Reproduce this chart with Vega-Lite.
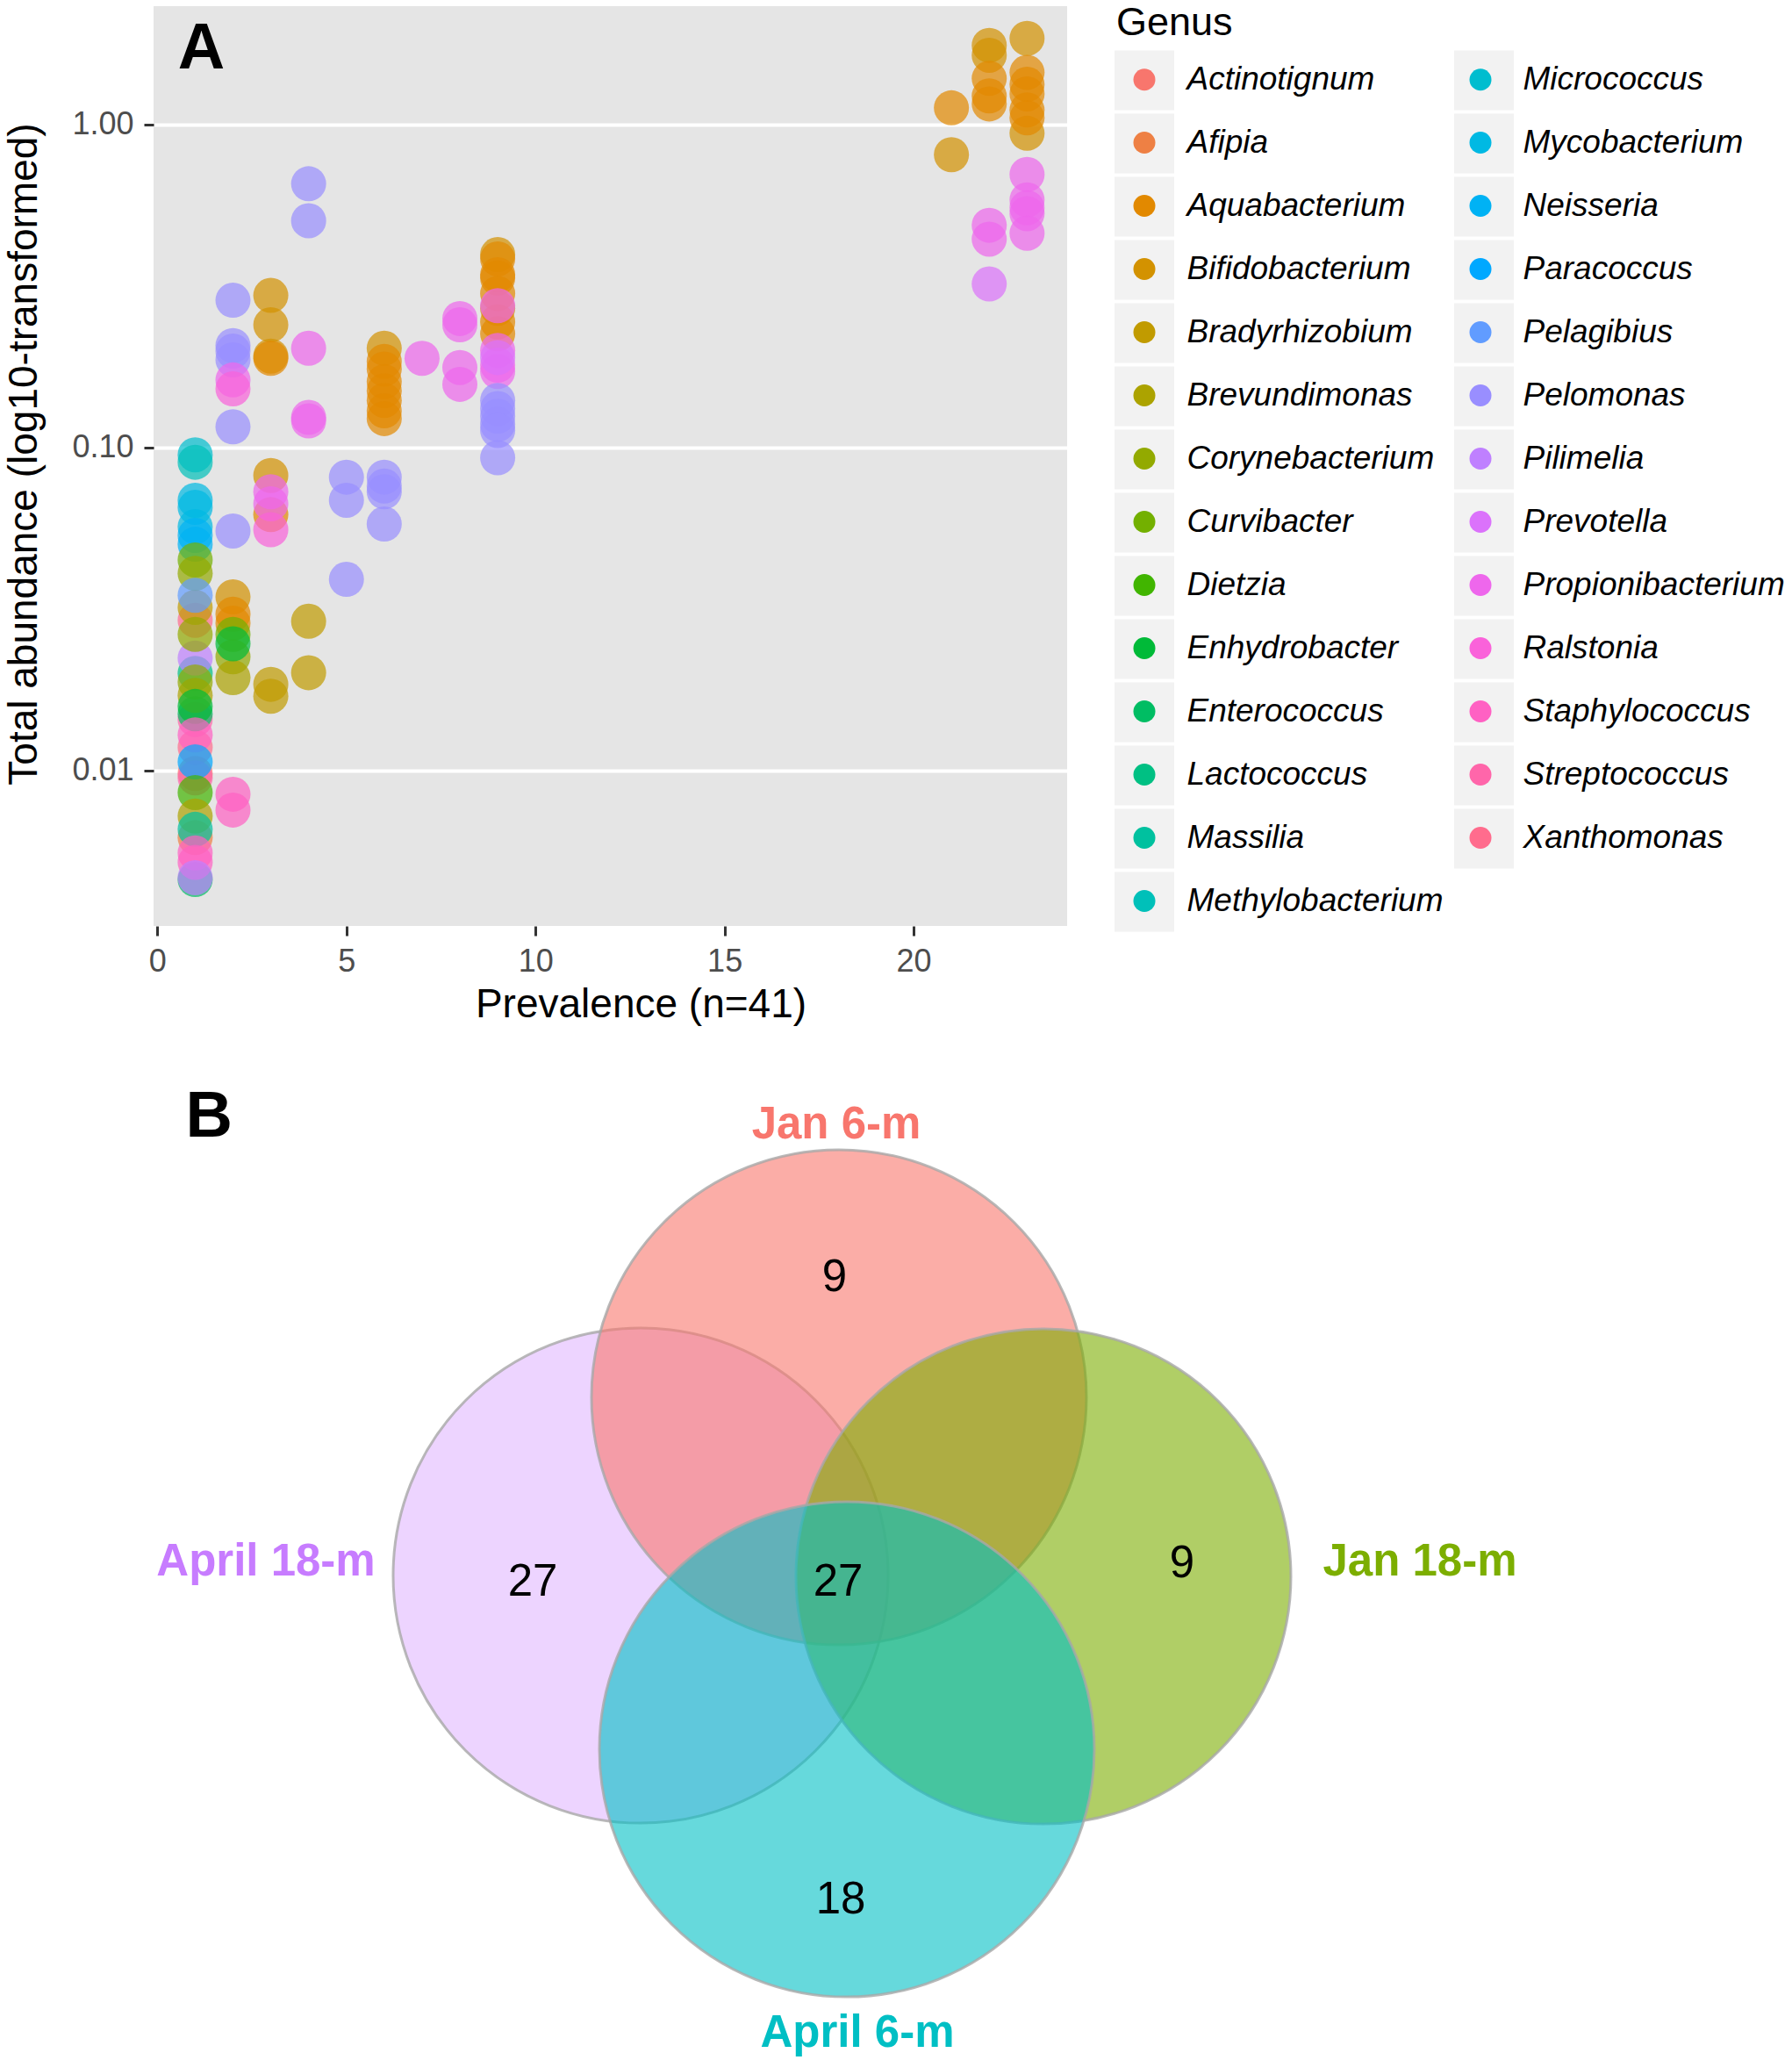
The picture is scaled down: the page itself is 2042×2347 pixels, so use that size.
{
  "$schema": "https://vega.github.io/schema/vega-lite/v6.json",
  "padding": {"left": 4, "top": 4, "right": 0, "bottom": 0},
  "background": "white",
  "bounds": "flush",
  "spacing": 125,
  "resolve": {"scale": {"color": "independent", "shape": "independent"}, "legend": {"color": "independent", "shape": "independent"}},
  "config": {"font": "Liberation Sans", "view": {"stroke": null}},
  "datasets": {
    "pts": [
      {"Genus": "Actinotignum", "prevalence": 1, "abundance": 0.0098},
      {"Genus": "Afipia", "prevalence": 1, "abundance": 0.0062},
      {"Genus": "Lactococcus", "prevalence": 1, "abundance": 0.0200},
      {"Genus": "Xanthomonas", "prevalence": 1, "abundance": 0.0292},
      {"Genus": "Xanthomonas", "prevalence": 1, "abundance": 0.0118},
      {"Genus": "Streptococcus", "prevalence": 1, "abundance": 0.0144},
      {"Genus": "Streptococcus", "prevalence": 1, "abundance": 0.0095},
      {"Genus": "Bradyrhizobium", "prevalence": 1, "abundance": 0.032},
      {"Genus": "Enterococcus", "prevalence": 1, "abundance": 0.0046},
      {"Genus": "Enterococcus", "prevalence": 1, "abundance": 0.0150},
      {"Genus": "Micrococcus", "prevalence": 1, "abundance": 0.0950},
      {"Genus": "Methylobacterium", "prevalence": 1, "abundance": 0.0901},
      {"Genus": "Mycobacterium", "prevalence": 1, "abundance": 0.0687},
      {"Genus": "Mycobacterium", "prevalence": 1, "abundance": 0.0653},
      {"Genus": "Mycobacterium", "prevalence": 1, "abundance": 0.0569},
      {"Genus": "Neisseria", "prevalence": 1, "abundance": 0.0535},
      {"Genus": "Neisseria", "prevalence": 1, "abundance": 0.0502},
      {"Genus": "Curvibacter", "prevalence": 1, "abundance": 0.0449},
      {"Genus": "Corynebacterium", "prevalence": 1, "abundance": 0.0408},
      {"Genus": "Pelagibius", "prevalence": 1, "abundance": 0.0349},
      {"Genus": "Pilimelia", "prevalence": 1, "abundance": 0.0223},
      {"Genus": "Corynebacterium", "prevalence": 1, "abundance": 0.0264},
      {"Genus": "Brevundimonas", "prevalence": 1, "abundance": 0.0171},
      {"Genus": "Corynebacterium", "prevalence": 1, "abundance": 0.0188},
      {"Genus": "Enhydrobacter", "prevalence": 1, "abundance": 0.0158},
      {"Genus": "Staphylococcus", "prevalence": 1, "abundance": 0.0129},
      {"Genus": "Paracoccus", "prevalence": 1, "abundance": 0.01065},
      {"Genus": "Dietzia", "prevalence": 1, "abundance": 0.00855},
      {"Genus": "Brevundimonas", "prevalence": 1, "abundance": 0.00723},
      {"Genus": "Massilia", "prevalence": 1, "abundance": 0.00658},
      {"Genus": "Staphylococcus", "prevalence": 1, "abundance": 0.00556},
      {"Genus": "Staphylococcus", "prevalence": 1, "abundance": 0.0052},
      {"Genus": "Pilimelia", "prevalence": 1, "abundance": 0.00466},
      {"Genus": "Bifidobacterium", "prevalence": 2, "abundance": 0.0345},
      {"Genus": "Aquabacterium", "prevalence": 2, "abundance": 0.0305},
      {"Genus": "Aquabacterium", "prevalence": 2, "abundance": 0.0286},
      {"Genus": "Curvibacter", "prevalence": 2, "abundance": 0.0264},
      {"Genus": "Corynebacterium", "prevalence": 2, "abundance": 0.0225},
      {"Genus": "Brevundimonas", "prevalence": 2, "abundance": 0.0194},
      {"Genus": "Enhydrobacter", "prevalence": 2, "abundance": 0.0247},
      {"Genus": "Staphylococcus", "prevalence": 2, "abundance": 0.00845},
      {"Genus": "Staphylococcus", "prevalence": 2, "abundance": 0.00755},
      {"Genus": "Pelomonas", "prevalence": 2, "abundance": 0.286},
      {"Genus": "Pelomonas", "prevalence": 2, "abundance": 0.207},
      {"Genus": "Pelomonas", "prevalence": 2, "abundance": 0.199},
      {"Genus": "Pelomonas", "prevalence": 2, "abundance": 0.187},
      {"Genus": "Pelomonas", "prevalence": 2, "abundance": 0.116},
      {"Genus": "Pelomonas", "prevalence": 2, "abundance": 0.0552},
      {"Genus": "Propionibacterium", "prevalence": 2, "abundance": 0.162},
      {"Genus": "Ralstonia", "prevalence": 2, "abundance": 0.152},
      {"Genus": "Bifidobacterium", "prevalence": 3, "abundance": 0.296},
      {"Genus": "Bifidobacterium", "prevalence": 3, "abundance": 0.240},
      {"Genus": "Bifidobacterium", "prevalence": 3, "abundance": 0.192},
      {"Genus": "Bifidobacterium", "prevalence": 3, "abundance": 0.082},
      {"Genus": "Aquabacterium", "prevalence": 3, "abundance": 0.189},
      {"Genus": "Aquabacterium", "prevalence": 3, "abundance": 0.062},
      {"Genus": "Propionibacterium", "prevalence": 3, "abundance": 0.073},
      {"Genus": "Propionibacterium", "prevalence": 3, "abundance": 0.067},
      {"Genus": "Ralstonia", "prevalence": 3, "abundance": 0.0557},
      {"Genus": "Bradyrhizobium", "prevalence": 3, "abundance": 0.0185},
      {"Genus": "Bradyrhizobium", "prevalence": 3, "abundance": 0.0170},
      {"Genus": "Pelomonas", "prevalence": 4, "abundance": 0.656},
      {"Genus": "Pelomonas", "prevalence": 4, "abundance": 0.504},
      {"Genus": "Propionibacterium", "prevalence": 4, "abundance": 0.203},
      {"Genus": "Propionibacterium", "prevalence": 4, "abundance": 0.124},
      {"Genus": "Propionibacterium", "prevalence": 4, "abundance": 0.121},
      {"Genus": "Bradyrhizobium", "prevalence": 4, "abundance": 0.029},
      {"Genus": "Bradyrhizobium", "prevalence": 4, "abundance": 0.0201},
      {"Genus": "Pelomonas", "prevalence": 5, "abundance": 0.081},
      {"Genus": "Pelomonas", "prevalence": 5, "abundance": 0.0687},
      {"Genus": "Pelomonas", "prevalence": 5, "abundance": 0.0391},
      {"Genus": "Pelomonas", "prevalence": 6, "abundance": 0.081},
      {"Genus": "Pelomonas", "prevalence": 6, "abundance": 0.076},
      {"Genus": "Pelomonas", "prevalence": 6, "abundance": 0.073},
      {"Genus": "Pelomonas", "prevalence": 6, "abundance": 0.058},
      {"Genus": "Bifidobacterium", "prevalence": 6, "abundance": 0.203},
      {"Genus": "Aquabacterium", "prevalence": 6, "abundance": 0.185},
      {"Genus": "Aquabacterium", "prevalence": 6, "abundance": 0.175},
      {"Genus": "Aquabacterium", "prevalence": 6, "abundance": 0.160},
      {"Genus": "Aquabacterium", "prevalence": 6, "abundance": 0.150},
      {"Genus": "Aquabacterium", "prevalence": 6, "abundance": 0.140},
      {"Genus": "Aquabacterium", "prevalence": 6, "abundance": 0.130},
      {"Genus": "Aquabacterium", "prevalence": 6, "abundance": 0.123},
      {"Genus": "Propionibacterium", "prevalence": 7, "abundance": 0.189},
      {"Genus": "Propionibacterium", "prevalence": 8, "abundance": 0.251},
      {"Genus": "Propionibacterium", "prevalence": 8, "abundance": 0.240},
      {"Genus": "Propionibacterium", "prevalence": 8, "abundance": 0.177},
      {"Genus": "Propionibacterium", "prevalence": 8, "abundance": 0.157},
      {"Genus": "Bifidobacterium", "prevalence": 9, "abundance": 0.396},
      {"Genus": "Bifidobacterium", "prevalence": 9, "abundance": 0.270},
      {"Genus": "Aquabacterium", "prevalence": 9, "abundance": 0.384},
      {"Genus": "Aquabacterium", "prevalence": 9, "abundance": 0.343},
      {"Genus": "Aquabacterium", "prevalence": 9, "abundance": 0.335},
      {"Genus": "Aquabacterium", "prevalence": 9, "abundance": 0.300},
      {"Genus": "Aquabacterium", "prevalence": 9, "abundance": 0.245},
      {"Genus": "Aquabacterium", "prevalence": 9, "abundance": 0.225},
      {"Genus": "Propionibacterium", "prevalence": 9, "abundance": 0.275},
      {"Genus": "Propionibacterium", "prevalence": 9, "abundance": 0.200},
      {"Genus": "Propionibacterium", "prevalence": 9, "abundance": 0.180},
      {"Genus": "Propionibacterium", "prevalence": 9, "abundance": 0.172},
      {"Genus": "Prevotella", "prevalence": 9, "abundance": 0.190},
      {"Genus": "Pelomonas", "prevalence": 9, "abundance": 0.140},
      {"Genus": "Pelomonas", "prevalence": 9, "abundance": 0.132},
      {"Genus": "Pelomonas", "prevalence": 9, "abundance": 0.125},
      {"Genus": "Pelomonas", "prevalence": 9, "abundance": 0.118},
      {"Genus": "Pelomonas", "prevalence": 9, "abundance": 0.113},
      {"Genus": "Pelomonas", "prevalence": 9, "abundance": 0.093},
      {"Genus": "Aquabacterium", "prevalence": 21, "abundance": 1.127},
      {"Genus": "Bifidobacterium", "prevalence": 21, "abundance": 0.807},
      {"Genus": "Bifidobacterium", "prevalence": 22, "abundance": 1.76},
      {"Genus": "Bifidobacterium", "prevalence": 22, "abundance": 1.64},
      {"Genus": "Aquabacterium", "prevalence": 22, "abundance": 1.39},
      {"Genus": "Aquabacterium", "prevalence": 22, "abundance": 1.227},
      {"Genus": "Aquabacterium", "prevalence": 22, "abundance": 1.159},
      {"Genus": "Propionibacterium", "prevalence": 22, "abundance": 0.488},
      {"Genus": "Propionibacterium", "prevalence": 22, "abundance": 0.442},
      {"Genus": "Prevotella", "prevalence": 22, "abundance": 0.321},
      {"Genus": "Bifidobacterium", "prevalence": 23, "abundance": 1.85},
      {"Genus": "Bifidobacterium", "prevalence": 23, "abundance": 0.94},
      {"Genus": "Aquabacterium", "prevalence": 23, "abundance": 1.45},
      {"Genus": "Aquabacterium", "prevalence": 23, "abundance": 1.333},
      {"Genus": "Aquabacterium", "prevalence": 23, "abundance": 1.245},
      {"Genus": "Aquabacterium", "prevalence": 23, "abundance": 1.11},
      {"Genus": "Aquabacterium", "prevalence": 23, "abundance": 1.05},
      {"Genus": "Propionibacterium", "prevalence": 23, "abundance": 0.701},
      {"Genus": "Propionibacterium", "prevalence": 23, "abundance": 0.585},
      {"Genus": "Propionibacterium", "prevalence": 23, "abundance": 0.553},
      {"Genus": "Propionibacterium", "prevalence": 23, "abundance": 0.530},
      {"Genus": "Propionibacterium", "prevalence": 23, "abundance": 0.461}
    ],
    "venn": [
      {"set": "April 18-m", "vx": 5.55, "vy": 5.52},
      {"set": "Jan 6-m", "vx": 7.81, "vy": 7.55},
      {"set": "Jan 18-m", "vx": 10.14, "vy": 5.51},
      {"set": "April 6-m", "vx": 7.90, "vy": 3.54}
    ],
    "vennLabels": [
      {"set": "Jan 6-m", "vx": 7.78, "vy": 10.50},
      {"set": "April 18-m", "vx": 1.28, "vy": 5.52},
      {"set": "Jan 18-m", "vx": 14.43, "vy": 5.52},
      {"set": "April 6-m", "vx": 8.02, "vy": 0.15}
    ],
    "vennNums": [
      {"n": "9", "vx": 7.76, "vy": 8.76},
      {"n": "27", "vx": 4.32, "vy": 5.29},
      {"n": "27", "vx": 7.80, "vy": 5.29},
      {"n": "9", "vx": 11.72, "vy": 5.50},
      {"n": "18", "vx": 7.83, "vy": 1.67}
    ]
  },
  "vconcat": [
    {
      "width": 1041,
      "height": 1048,
      "view": {"fill": "#E5E5E5", "stroke": null},
      "encoding": {
        "x": {
          "field": "prevalence", "type": "quantitative",
          "title": "Prevalence (n=41)",
          "scale": {"domain": [-0.1, 24.06], "nice": false, "zero": false},
          "axis": {
            "values": [0, 5, 10, 15, 20], "grid": false, "domain": false,
            "tickColor": "#333333", "tickSize": 11, "tickWidth": 3,
            "labelFontSize": 36, "labelColor": "#4D4D4D", "labelPadding": 12,
            "titleFontSize": 46, "titleFontWeight": "normal", "titleColor": "black", "titlePadding": 9,
            "titleX": 555
          }
        },
        "y": {
          "field": "abundance", "type": "quantitative",
          "title": "Total abundance (log10-transformed)",
          "scale": {"type": "log", "domain": [0.003303, 2.327], "nice": false},
          "axis": {
            "values": [0.01, 0.1, 1], "format": ".2f", "domain": false,
            "grid": true, "gridColor": "white", "gridWidth": 4,
            "tickColor": "#333333", "tickSize": 11, "tickWidth": 3,
            "labelFontSize": 36, "labelColor": "#4D4D4D", "labelPadding": 12,
            "titleFontSize": 46, "titleFontWeight": "normal", "titleColor": "black", "titlePadding": 30,
            "titleY": 510
          }
        }
      },
      "layer": [
        {
          "data": {"name": "pts"},
          "mark": {"type": "point", "filled": true, "size": 0, "color": "#F2F2F2", "opacity": 1},
          "encoding": {
            "shape": {
              "field": "Genus", "type": "nominal",
              "scale": {"range": ["square"]},
              "legend": {
                "orient": "none", "legendX": 1095, "legendY": 50.5,
                "direction": "vertical", "columns": 2, "columnPadding": 319, "rowPadding": 4,
                "symbolSize": 4624, "symbolFillColor": "#F2F2F2", "symbolStrokeColor": "#F2F2F2",
                "symbolStrokeWidth": 0, "symbolOpacity": 1,
                "labelExpr": "''", "labelFontSize": 1, "labelOffset": 0,
                "title": null, "padding": 0, "zindex": 0
              }
            }
          }
        },
        {
          "data": {"name": "pts"},
          "mark": {"type": "point", "filled": true, "size": 1600, "opacity": 0.7, "strokeWidth": 0},
          "encoding": {
            "color": {
              "field": "Genus", "type": "nominal",
              "scale": {
                "domain": ["Actinotignum", "Afipia", "Aquabacterium", "Bifidobacterium", "Bradyrhizobium", "Brevundimonas", "Corynebacterium", "Curvibacter", "Dietzia", "Enhydrobacter", "Enterococcus", "Lactococcus", "Massilia", "Methylobacterium", "Micrococcus", "Mycobacterium", "Neisseria", "Paracoccus", "Pelagibius", "Pelomonas", "Pilimelia", "Prevotella", "Propionibacterium", "Ralstonia", "Staphylococcus", "Streptococcus", "Xanthomonas"],
                "range": ["#F8766D", "#EE8044", "#E28900", "#D39200", "#C19B00", "#ACA300", "#93AA00", "#73B000", "#41B500", "#00BA38", "#00BD63", "#00C083", "#00C19F", "#00C0B9", "#00BDCF", "#00B9E3", "#00B2F4", "#00A8FF", "#619CFF", "#998EFF", "#BF80FF", "#DB72FB", "#EE67EC", "#FA62DA", "#FF61C3", "#FF66AA", "#FF6C8D"]
              },
              "legend": {
                "orient": "none", "legendX": 1097, "legendY": -3,
                "direction": "vertical", "columns": 2, "columnPadding": 10, "rowPadding": 34,
                "symbolType": "circle", "symbolSize": 625, "symbolOffset": 13.5,
                "symbolOpacity": 1, "symbolStrokeWidth": 0,
                "labelFontSize": 37, "labelFontStyle": "italic", "labelColor": "black",
                "labelOffset": 30, "labelLimit": 800,
                "title": "Genus", "titleFontSize": 45, "titleFontWeight": "normal", "titleColor": "black",
                "titlePadding": 23, "padding": 0, "zindex": 1
              }
            }
          }
        },
        {
          "data": {"values": [{"label": "A", "prevalence": 0.543, "abundance": 1.488}]},
          "mark": {"type": "text", "fontSize": 74, "fontWeight": "bold", "color": "black", "align": "left", "baseline": "alphabetic"},
          "encoding": {"text": {"field": "label"}}
        }
      ]
    },
    {
      "width": 1600,
      "height": 1167,
      "encoding": {
        "x": {"field": "vx", "type": "quantitative", "scale": {"domain": [0, 16], "nice": false, "zero": false}, "axis": null},
        "y": {"field": "vy", "type": "quantitative", "scale": {"domain": [0, 11.67], "nice": false, "zero": false}, "axis": null}
      },
      "layer": [
        {
          "data": {"name": "venn"},
          "mark": {"type": "point", "filled": true, "size": 318096, "opacity": 1, "stroke": "#A8A8A8", "strokeWidth": 3, "strokeOpacity": 0.8},
          "encoding": {
            "color": {
              "field": "set", "type": "nominal",
              "scale": {"domain": ["Jan 6-m", "Jan 18-m", "April 6-m", "April 18-m"], "range": ["#F8766D", "#7CAE00", "#00BFC4", "#C77CFF"]},
              "legend": null
            },
            "fillOpacity": {
              "condition": {"test": "datum.set === 'April 18-m'", "value": 0.33},
              "value": 0.6
            }
          }
        },
        {
          "data": {"name": "vennLabels"},
          "mark": {"type": "text", "fontSize": 51, "fontWeight": "bold", "align": "center", "baseline": "alphabetic"},
          "encoding": {
            "text": {"field": "set"},
            "color": {"field": "set", "type": "nominal", "legend": null}
          }
        },
        {
          "data": {"name": "vennNums"},
          "mark": {"type": "text", "fontSize": 51, "color": "black", "align": "center", "baseline": "alphabetic"},
          "encoding": {"text": {"field": "n"}}
        },
        {
          "data": {"values": [{"label": "B", "vx": 0.366, "vy": 10.52}]},
          "mark": {"type": "text", "fontSize": 74, "fontWeight": "bold", "color": "black", "align": "left", "baseline": "alphabetic"},
          "encoding": {"text": {"field": "label"}}
        }
      ]
    }
  ]
}
